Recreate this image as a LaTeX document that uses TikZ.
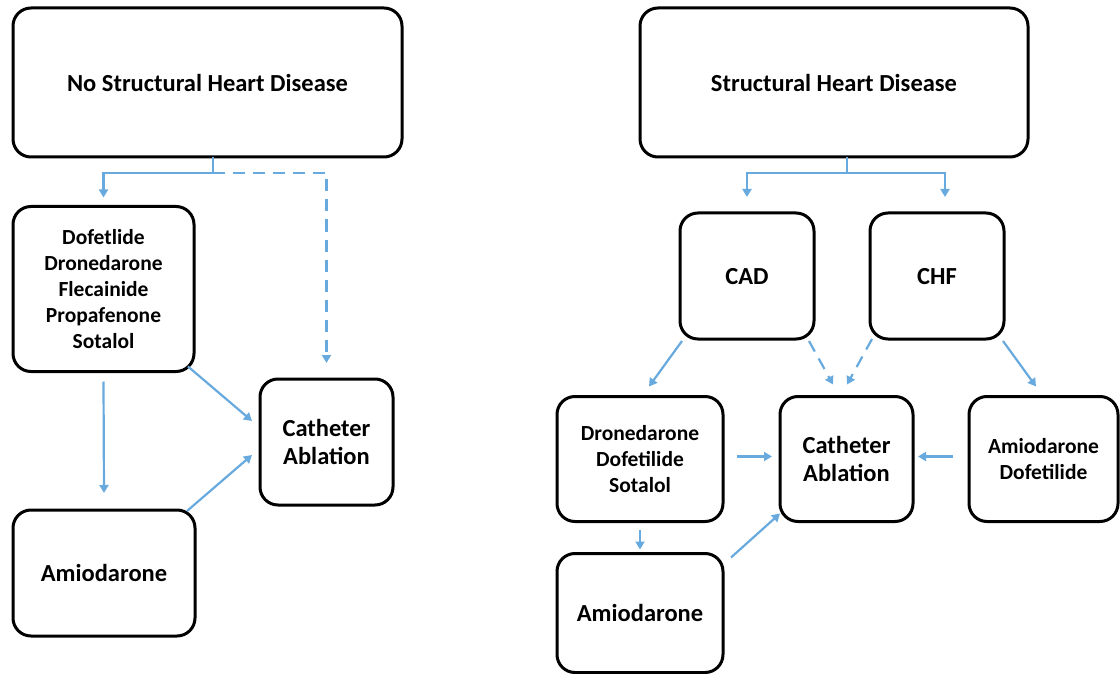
\documentclass[tikz,border=0pt]{standalone}
\usepackage{fontspec}
\setmainfont{Carlito}
\usetikzlibrary{arrows.meta}
\definecolor{arrblue}{RGB}{104,170,222}
\tikzset{
  box/.style={draw=black, line width=3pt, rounded corners=18pt, inner sep=0pt, outer sep=0pt, align=center, font=\bfseries\fontsize{24.5}{28}\selectfont},
  onebox/.style={box, text depth=-6pt},
  smallbox/.style={box, font=\bfseries\fontsize{21.5}{26}\selectfont},
  conn/.style={draw=arrblue, line width=2.2pt, -{Triangle[length=8pt,width=9pt]}},
  dconn/.style={conn, dash pattern=on 12pt off 8pt},
  link/.style={draw=arrblue, line width=2.2pt}
}
\begin{document}
\begin{tikzpicture}[x=1pt,y=-1pt]
\useasboundingbox (0,0) rectangle (1120,674);
% left half
\node[onebox, minimum width=389pt, minimum height=149pt] (nshd) at (207.5,82.5) {No Structural Heart Disease};
\node[smallbox, minimum width=181pt, minimum height=165pt] (drugsL) at (103.5,289) {Dofetlide\\Dronedarone\\Flecainide\\Propafenone\\Sotalol};
\node[onebox, minimum width=182pt, minimum height=126pt] (amioL) at (104,573) {Amiodarone};
\node[box, minimum width=133pt, minimum height=126pt] (cathL) at (326.5,442) {Catheter\\Ablation};
% right half
\node[onebox, minimum width=388pt, minimum height=149pt] (shd) at (834,82.5) {Structural Heart Disease};
\node[onebox, minimum width=134pt, minimum height=126pt] (cad) at (747,276) {CAD};
\node[onebox, minimum width=134pt, minimum height=126pt] (chf) at (937,276) {CHF};
\node[smallbox, minimum width=166pt, minimum height=125pt] (dronR) at (640,459) {Dronedarone\\Dofetilide\\Sotalol};
\node[box, minimum width=133pt, minimum height=125pt] (cathR) at (846.5,459) {Catheter\\Ablation};
\node[smallbox, minimum width=149pt, minimum height=125pt] (amdofR) at (1043.5,459) {Amiodarone\\Dofetilide};
\node[onebox, minimum width=166pt, minimum height=119pt] (amioR) at (640,613) {Amiodarone};
% junctions
\coordinate (j1) at (213,173);
\coordinate (j2) at (847,173);
% left connectors
\draw[link] (nshd.south -| j1) -- (j1);
\draw[conn] (j1) -| ([yshift=9pt]drugsL.north);
\draw[dconn] (j1) -| ([yshift=16pt]cathL.north);
\draw[conn] ([yshift=-10pt]drugsL.south) -- ([yshift=17pt]amioL.north);
\draw[conn] ([shift={(-6pt,5pt)}]drugsL.south east) -- ([shift={(-8pt,21pt)}]cathL.west);
\draw[conn] ([shift={(-8pt,-1pt)}]amioL.north east) -- ([shift={(-8pt,-13pt)}]cathL.west);
% right connectors
\draw[link] (shd.south -| j2) -- (j2);
\draw[conn] (j2) -| ([yshift=16pt]cad.north);
\draw[conn] (j2) -| ([shift={(8pt,16pt)}]chf.north);
\draw[conn] ([shift={(2pt,-2pt)}]cad.south west) -- ([shift={(9pt,10pt)}]dronR.north);
\draw[dconn] ([shift={(-5pt,-2pt)}]cad.south east) -- ([shift={(-13.5pt,12pt)}]cathR.north);
\draw[dconn] ([shift={(2pt,0pt)}]chf.south west) -- ([shift={(0.5pt,12pt)}]cathR.north);
\draw[conn] ([shift={(-1pt,-2pt)}]chf.south east) -- ([shift={(-7.5pt,10pt)}]amdofR.north);
\draw[conn] ([shift={(14pt,2.5pt)}]dronR.east) -- ([shift={(-8pt,2.5pt)}]cathR.west);
\draw[conn] ([shift={(-16pt,2.5pt)}]amdofR.west) -- ([shift={(5pt,2.5pt)}]cathR.east);
\draw[conn] ([yshift=-8pt]dronR.south) -- ([yshift=4pt]amioR.north);
\draw[conn] ([shift={(8pt,-4pt)}]amioR.north east) -- ([shift={(0pt,8pt)}]cathR.south west);
\end{tikzpicture}
\end{document}
